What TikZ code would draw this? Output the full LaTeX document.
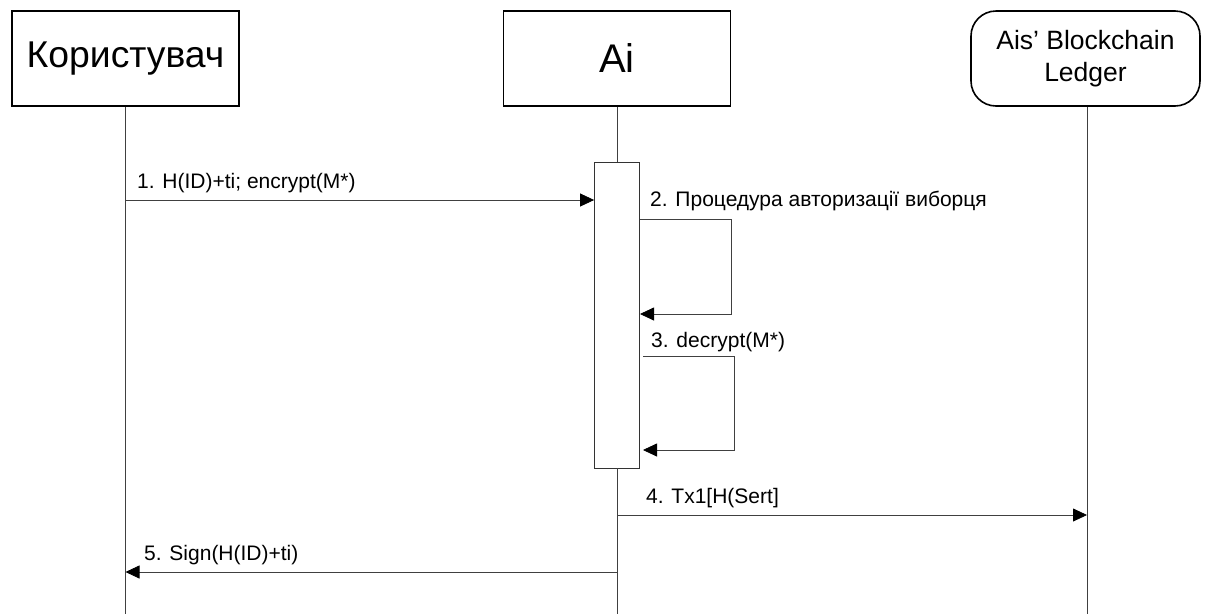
\documentclass[tikz,border=0pt]{standalone}
\usepackage{fontspec}
\setmainfont{Liberation Sans}
\usetikzlibrary{arrows.meta}
\begin{document}
\begin{tikzpicture}[x=1pt,y=-1pt,
  actor/.style={draw=black,line width=1.6pt,minimum width=227pt,minimum height=95pt,inner sep=0pt,font=\fontsize{37.3}{42}\selectfont},
  ledger/.style={actor,rounded corners=25pt,minimum width=229pt,align=center,font=\fontsize{26.5}{32}\selectfont},
  life/.style={draw=black!75,line width=0.8pt},
  bar/.style={draw=black!80,line width=0.8pt,fill=white,minimum width=45pt,minimum height=306pt,inner sep=0pt},
  msg/.style={draw=black!75,line width=0.8pt,-{Triangle[length=14pt,width=13pt,fill=black,color=black]}},
  lbl/.style={anchor=base west,inner sep=0pt,font=\fontsize{21}{25}\selectfont}]
\useasboundingbox (0,0) rectangle (1208,614);

% participants
\node[actor] (user) at (125.5,58.5) {Користувач};
\node[actor,font=\fontsize{40}{44}\selectfont] (ai) at (617,58.5) {Ai};
\node[ledger] (led) at (1085.5,58.5) {Ais’ Blockchain\\Ledger};

% activation of Ai
\node[bar] (act) at (617,315) {};

% lifeline ends
\coordinate (userEnd) at (125.5,614);
\coordinate (aiEnd) at (617,614);
\coordinate (ledEnd) at (1087,614);

\draw[life] (user.south) -- (userEnd);
\draw[life] (ai.south) -- (act.north);
\draw[life] (act.south) -- (aiEnd);
\draw[life] (led.south -| ledEnd) -- (ledEnd);

% message points
\coordinate (m1s) at (125.5,200);
\coordinate (m1e) at (act.west |- m1s);
\coordinate (m2s) at (640,219);
\coordinate (m2e) at (640,314);
\coordinate (m3s) at (643,356);
\coordinate (m3e) at (643,450);
\coordinate (m4s) at (617,515);
\coordinate (m4e) at (1087,515);
\coordinate (m5s) at (617,572);
\coordinate (m5e) at (125.5,572);

\draw[msg] (m1s) -- (m1e);
\draw[msg] (m2s) -- (731,219) -- (731,314) -- (m2e);
\draw[msg] (m3s) -- (734,356) -- (734,450) -- (m3e);
\draw[msg] (m4s) -- (m4e);
\draw[msg] (m5s) -- (m5e);

% message labels
\node[lbl] (l1) at (137,188) {1. H(ID)+ti; encrypt(M*)};
\node[lbl] (l2) at (650,206) {2. Процедура авторизації виборця};
\node[lbl] (l3) at (651,347) {3. decrypt(M*)};
\node[lbl] (l4) at (646,503) {4. Tx1[H(Sert]};
\node[lbl] (l5) at (144,560) {5. Sign(H(ID)+ti)};
\end{tikzpicture}
\end{document}
